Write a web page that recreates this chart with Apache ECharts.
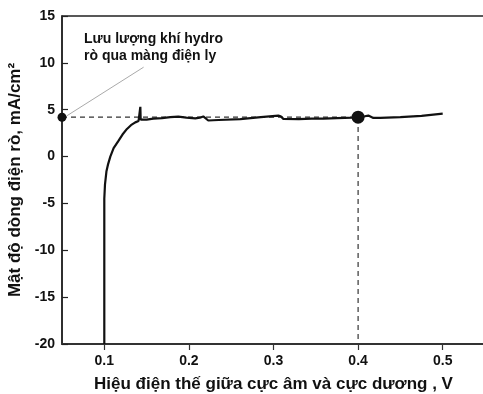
<!DOCTYPE html>
<html>
<head>
<meta charset="utf-8">
<script src="https://cdn.jsdelivr.net/npm/echarts@6/dist/echarts.min.js"></script>
<style>
  html, body { margin: 0; padding: 0; background: #fff; }
  #chart { width: 483px; height: 394px; }
</style>
</head>
<body>
<div id="chart"></div>
<script>
// Leakage current density vs. cell voltage
const voltage = [0.1, 0.1, 0.1008, 0.1025, 0.1045, 0.1071, 0.111, 0.1169, 0.1215, 0.1268,
  0.1315, 0.1366, 0.1405, 0.1424, 0.1426, 0.1430, 0.150, 0.158, 0.1682, 0.178,
  0.1875, 0.197, 0.2076, 0.213, 0.217, 0.219, 0.2229, 0.235, 0.2608, 0.285,
  0.3057, 0.3085, 0.3116, 0.33, 0.345, 0.356, 0.3573, 0.359, 0.375, 0.3928,
  0.4, 0.408, 0.4121, 0.418, 0.4262, 0.45, 0.475, 0.5];
const current = [-20, -4.5, -3.0, -1.6, -0.8, 0, 0.9, 1.7, 2.35, 2.95,
  3.35, 3.65, 3.8, 3.85, 5.3, 3.95, 3.95, 4.05, 4.1, 4.2,
  4.26, 4.15, 4.08, 4.15, 4.28, 4.1, 3.85, 3.9, 4.0, 4.2,
  4.37, 4.3, 4.02, 4.0, 4.05, 4.05, 4.25, 4.05, 4.1, 4.15,
  4.2, 4.3, 4.37, 4.12, 4.12, 4.2, 4.35, 4.58];

// hydrogen crossover level, read at 0.4 V
const crossoverVoltage = 0.4;
const crossoverCurrent = 4.2;
const axisStartVoltage = 0.05;

const xTicks = [0.1, 0.2, 0.3, 0.4, 0.5];
const yTicks = [-20, -15, -10, -5, 0, 5, 10, 15];

// leader from the marker toward the note
const leaderVoltage = [0.0559, 0.1465];
const leaderCurrent = [4.36, 9.54];

const noteText = 'Lưu lượng khí hydro\nrò qua màng điện ly';

const FONT = '"Liberation Sans", Arial, sans-serif';

const curve = voltage.map((v, i) => [v, current[i]]);

const chart = echarts.init(document.getElementById('chart'), null, { renderer: 'canvas' });
chart.setOption({
  animation: false,
  backgroundColor: '#ffffff',
  grid: {
    left: 62, top: 16, width: 423, height: 328,
    outerBoundsMode: 'none', containLabel: false,
    show: true, borderColor: '#222', borderWidth: 1.5, backgroundColor: 'transparent'
  },
  xAxis: {
    type: 'value',
    min: axisStartVoltage, max: 0.55,
    name: 'Hiệu điện thế giữa cực âm và cực dương , V',
    nameLocation: 'middle', nameGap: 32,
    nameTextStyle: { fontFamily: FONT, fontWeight: 'bold', fontSize: 17, color: '#111' },
    axisLine: { show: true, onZero: false, lineStyle: { color: '#333', width: 2 } },
    axisTick: { show: true, inside: false, length: 6, customValues: xTicks, lineStyle: { color: '#333', width: 1.2 } },
    axisLabel: {
      customValues: xTicks, margin: 10,
      fontFamily: FONT, fontWeight: 'bold', fontSize: 14, color: '#111',
      formatter: v => v.toFixed(1)
    },
    splitLine: { show: false }
  },
  yAxis: {
    type: 'value',
    min: yTicks[0], max: yTicks[yTicks.length - 1], interval: 5,
    name: 'Mật độ dòng điện rò, mA/cm²',
    nameLocation: 'middle', nameGap: 35, nameRotate: 90,
    nameTextStyle: { fontFamily: FONT, fontWeight: 'bold', fontSize: 17, color: '#111' },
    axisLine: { show: true, onZero: false, lineStyle: { color: '#222', width: 1.5 } },
    axisTick: { show: true, inside: true, length: 6, lineStyle: { color: '#222', width: 1.2 } },
    axisLabel: { margin: 7, fontFamily: FONT, fontWeight: 'bold', fontSize: 14, color: '#111' },
    splitLine: { show: false }
  },
  series: [
    {
      type: 'line',
      data: [[axisStartVoltage, crossoverCurrent], [crossoverVoltage, crossoverCurrent], [crossoverVoltage, yTicks[0]]],
      symbol: 'none', z: 1,
      lineStyle: { color: '#333', width: 1.2, type: [5, 4] }
    },
    {
      type: 'line',
      data: curve,
      symbol: 'none', z: 3,
      lineStyle: { color: '#111', width: 2.2 }
    },
    {
      type: 'line',
      data: leaderVoltage.map((v, i) => [v, leaderCurrent[i]]),
      symbol: 'none', z: 2,
      lineStyle: { color: '#aaa', width: 1 }
    },
    {
      type: 'scatter',
      data: [[axisStartVoltage, crossoverCurrent]],
      symbolSize: 9, z: 4,
      itemStyle: { color: '#111', opacity: 1 }
    },
    {
      type: 'scatter',
      data: [[crossoverVoltage, crossoverCurrent]],
      symbolSize: 13, z: 4,
      itemStyle: { color: '#111', opacity: 1 }
    }
  ],
  graphic: [
    {
      type: 'text', left: 84, top: 31, z: 10,
      style: {
        text: noteText,
        font: 'bold 14px ' + FONT,
        fill: '#111',
        lineHeight: 17
      }
    }
  ]
});
</script>
</body>
</html>
